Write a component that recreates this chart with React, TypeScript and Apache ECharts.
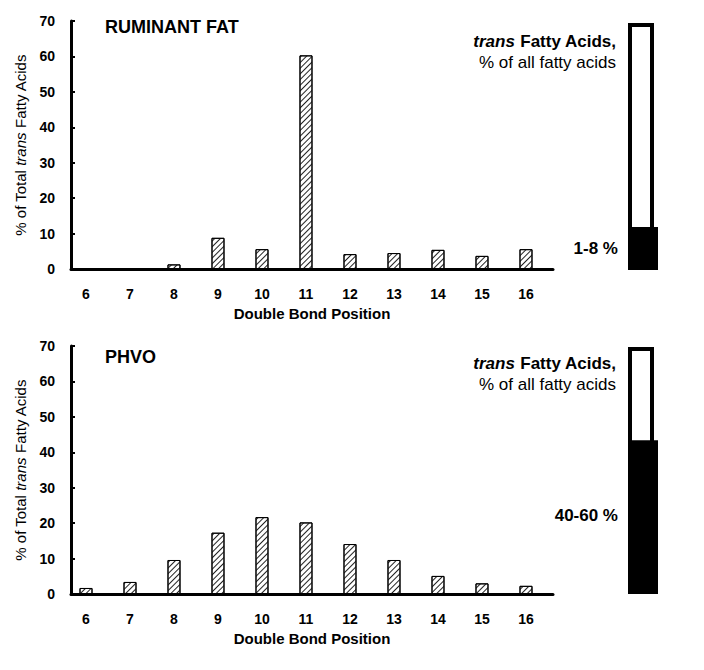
import React, { useEffect, useRef } from "react";
import * as echarts from "echarts";

const categories = ["6", "7", "8", "9", "10", "11", "12", "13", "14", "15", "16"];
const ruminantValues = [0, 0, 1.3, 8.8, 5.6, 60.3, 4.2, 4.5, 5.4, 3.7, 5.6];
const phvoValues = [1.7, 3.4, 9.6, 17.3, 21.7, 20.2, 14.1, 9.6, 5.1, 3.0, 2.3];
const panelTitles = ["RUMINANT FAT", "PHVO"];
const transShareValues = [12.2, 43.6];
const transShareLabels = ["1-8 %", "40-60 %"];
const yTicks = [0, 10, 20, 30, 40, 50, 60, 70];

const FONT = 'Arial, "Liberation Sans", sans-serif';

export default function App() {
  const ref = useRef<HTMLDivElement>(null);
  useEffect(() => {
    if (!ref.current) return;
    const chart = echarts.init(ref.current, null, { renderer: "svg" });
    const positions = categories.map((c) => Number(c));
    const hatch = {
      symbol: "rect",
      symbolSize: 1,
      color: "#222",
      backgroundColor: "#fff",
      dashArrayX: [1, 0],
      dashArrayY: [1, 2.5],
      rotation: -Math.PI / 4,
    };
    const mainX = (gridIndex: number) => ({
      type: "value",
      gridIndex,
      min: 5.659,
      max: 16.614,
      splitLine: { show: false },
      axisTick: { show: false },
      axisLine: { show: true, onZero: false, lineStyle: { color: "#000", width: 3 } },
      axisLabel: {
        customValues: positions,
        formatter: (v: number) => String(v),
        margin: 18,
        fontSize: 14,
        fontWeight: "bold",
        color: "#000",
        fontFamily: FONT,
      },
      name: "Double Bond Position",
      nameLocation: "middle",
      nameGap: 37,
      nameTextStyle: { fontSize: 15, fontWeight: "bold", color: "#000", fontFamily: FONT },
    });
    const mainY = (gridIndex: number) => ({
      type: "value",
      gridIndex,
      min: 0,
      max: 70,
      interval: 10,
      splitLine: { show: false },
      axisLine: { show: true, lineStyle: { color: "#000", width: 3 } },
      axisTick: { show: true, inside: true, length: 4, lineStyle: { color: "#000", width: 2 } },
      axisLabel: {
        margin: 16,
        fontSize: 14,
        fontWeight: "bold",
        color: "#000",
        fontFamily: FONT,
        customValues: yTicks,
      },
      name: "% of Total {i|trans} Fatty Acids",
      nameLocation: "middle",
      nameGap: 43,
      nameTextStyle: {
        fontSize: 15,
        color: "#000",
        fontFamily: FONT,
        rich: { i: { fontSize: 15, fontStyle: "italic", color: "#000", fontFamily: FONT } },
      },
    });
    const sideX = (gridIndex: number) => ({
      type: "category",
      gridIndex,
      data: ["trans"],
      show: false,
    });
    const sideY = (gridIndex: number) => ({
      type: "value",
      gridIndex,
      min: 0,
      max: 70,
      show: false,
    });
    const mainBars = (values: number[], idx: number) => ({
      type: "bar",
      xAxisIndex: idx,
      yAxisIndex: idx,
      barWidth: 13,
      data: values.map((v, i) => [positions[i], v]),
      itemStyle: { color: "#fff", borderColor: "#000", borderWidth: 1, decal: hatch },
      z: 1,
    });
    const sideBars = (share: number, idx: number) => [
      {
        type: "bar",
        xAxisIndex: idx,
        yAxisIndex: idx,
        barWidth: 26,
        barGap: "-100%",
        data: [70],
        itemStyle: { color: "#fff", borderColor: "#000", borderWidth: 4 },
      },
      {
        type: "bar",
        xAxisIndex: idx,
        yAxisIndex: idx,
        barWidth: 30,
        barGap: "-100%",
        data: [share],
        itemStyle: { color: "#000" },
      },
    ];
    const legendTexts = (y1: number, y2: number) => [
      {
        type: "text",
        x: 616,
        y: y1,
        style: {
          text: "{i|trans}{b| Fatty Acids,}",
          align: "right",
          verticalAlign: "middle",
          rich: {
            i: { font: `italic bold 17px ${FONT}`, fill: "#000" },
            b: { font: `bold 17px ${FONT}`, fill: "#000" },
          },
        },
      },
      {
        type: "text",
        x: 616,
        y: y2,
        style: {
          text: "% of all fatty acids",
          align: "right",
          verticalAlign: "middle",
          font: `17px ${FONT}`,
          fill: "#000",
        },
      },
    ];
    chart.setOption({
      animation: false,
      backgroundColor: "#fff",
      grid: [
        { left: 71, top: 21, width: 482, height: 248 },
        { left: 628, top: 23, width: 30, height: 247 },
        { left: 71, top: 346, width: 482, height: 248 },
        { left: 628, top: 347, width: 30, height: 247 },
      ],
      xAxis: [mainX(0), sideX(1), mainX(2), sideX(3)],
      yAxis: [mainY(0), sideY(1), mainY(2), sideY(3)],
      series: [
        mainBars(ruminantValues, 0),
        ...sideBars(transShareValues[0], 1),
        mainBars(phvoValues, 2),
        ...sideBars(transShareValues[1], 3),
      ],
      graphic: [
        {
          type: "text",
          x: 105,
          y: 27,
          style: { text: panelTitles[0], font: `bold 18px ${FONT}`, fill: "#000", verticalAlign: "middle" },
        },
        {
          type: "text",
          x: 105,
          y: 357,
          style: { text: panelTitles[1], font: `bold 18px ${FONT}`, fill: "#000", verticalAlign: "middle" },
        },
        ...legendTexts(41, 62),
        ...legendTexts(363, 384),
        {
          type: "text",
          x: 618,
          y: 248,
          style: { text: transShareLabels[0], font: `bold 17px ${FONT}`, fill: "#000", align: "right", verticalAlign: "middle" },
        },
        {
          type: "text",
          x: 618,
          y: 515,
          style: { text: transShareLabels[1], font: `bold 17px ${FONT}`, fill: "#000", align: "right", verticalAlign: "middle" },
        },
      ],
    });
    return () => chart.dispose();
  }, []);
  return (
    <div
      ref={ref}
      style={{ position: "absolute", left: 0, top: 0, width: 704, height: 670 }}
    />
  );
}
